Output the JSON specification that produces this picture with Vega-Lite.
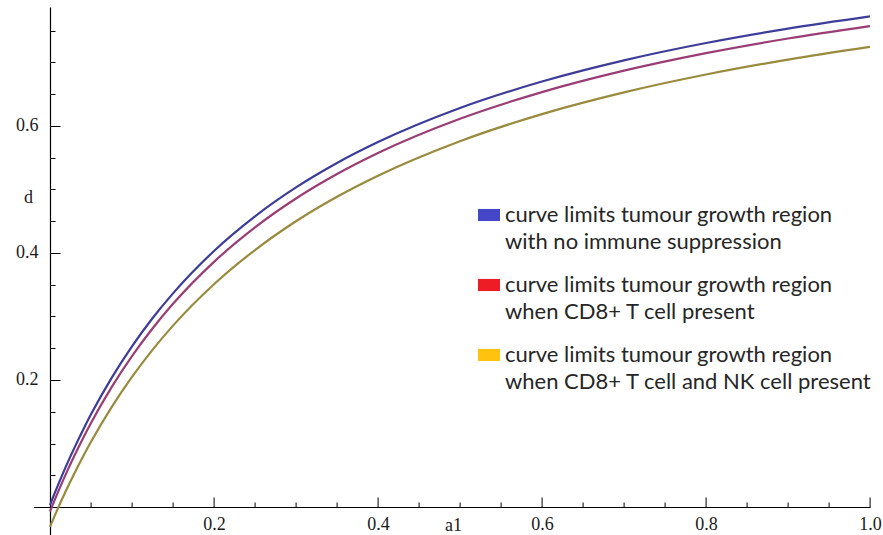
{
  "$schema": "https://vega.github.io/schema/vega-lite/v6.json",
  "width": 836.4,
  "height": 528,
  "autosize": "none",
  "padding": {"left": 33.6, "top": 7, "right": 13, "bottom": 0},
  "background": "white",
  "config": {"view": {"stroke": null}, "axis": {"grid": false}},
  "datasets": {
    "curves": [
      {"a1": 0, "d": 0.003, "series": "curve limits tumour growth region with no immune suppression"},
      {"a1": 0.005, "d": 0.0194, "series": "curve limits tumour growth region with no immune suppression"},
      {"a1": 0.01, "d": 0.0353, "series": "curve limits tumour growth region with no immune suppression"},
      {"a1": 0.02, "d": 0.0655, "series": "curve limits tumour growth region with no immune suppression"},
      {"a1": 0.03, "d": 0.0939, "series": "curve limits tumour growth region with no immune suppression"},
      {"a1": 0.04, "d": 0.1206, "series": "curve limits tumour growth region with no immune suppression"},
      {"a1": 0.05, "d": 0.1459, "series": "curve limits tumour growth region with no immune suppression"},
      {"a1": 0.075, "d": 0.203, "series": "curve limits tumour growth region with no immune suppression"},
      {"a1": 0.1, "d": 0.253, "series": "curve limits tumour growth region with no immune suppression"},
      {"a1": 0.125, "d": 0.2971, "series": "curve limits tumour growth region with no immune suppression"},
      {"a1": 0.15, "d": 0.3363, "series": "curve limits tumour growth region with no immune suppression"},
      {"a1": 0.2, "d": 0.403, "series": "curve limits tumour growth region with no immune suppression"},
      {"a1": 0.25, "d": 0.4575, "series": "curve limits tumour growth region with no immune suppression"},
      {"a1": 0.3, "d": 0.503, "series": "curve limits tumour growth region with no immune suppression"},
      {"a1": 0.35, "d": 0.5415, "series": "curve limits tumour growth region with no immune suppression"},
      {"a1": 0.4, "d": 0.5744, "series": "curve limits tumour growth region with no immune suppression"},
      {"a1": 0.5, "d": 0.628, "series": "curve limits tumour growth region with no immune suppression"},
      {"a1": 0.6, "d": 0.6697, "series": "curve limits tumour growth region with no immune suppression"},
      {"a1": 0.7, "d": 0.703, "series": "curve limits tumour growth region with no immune suppression"},
      {"a1": 0.8, "d": 0.7303, "series": "curve limits tumour growth region with no immune suppression"},
      {"a1": 0.9, "d": 0.753, "series": "curve limits tumour growth region with no immune suppression"},
      {"a1": 1.0, "d": 0.7722, "series": "curve limits tumour growth region with no immune suppression"},
      {"a1": 0, "d": -0.007, "series": "curve limits tumour growth region when CD8+ T cell present"},
      {"a1": 0.005, "d": 0.0089, "series": "curve limits tumour growth region when CD8+ T cell present"},
      {"a1": 0.01, "d": 0.0243, "series": "curve limits tumour growth region when CD8+ T cell present"},
      {"a1": 0.02, "d": 0.0538, "series": "curve limits tumour growth region when CD8+ T cell present"},
      {"a1": 0.03, "d": 0.0815, "series": "curve limits tumour growth region when CD8+ T cell present"},
      {"a1": 0.04, "d": 0.1076, "series": "curve limits tumour growth region when CD8+ T cell present"},
      {"a1": 0.05, "d": 0.1323, "series": "curve limits tumour growth region when CD8+ T cell present"},
      {"a1": 0.075, "d": 0.1883, "series": "curve limits tumour growth region when CD8+ T cell present"},
      {"a1": 0.1, "d": 0.2375, "series": "curve limits tumour growth region when CD8+ T cell present"},
      {"a1": 0.125, "d": 0.281, "series": "curve limits tumour growth region when CD8+ T cell present"},
      {"a1": 0.15, "d": 0.3198, "series": "curve limits tumour growth region when CD8+ T cell present"},
      {"a1": 0.2, "d": 0.3859, "series": "curve limits tumour growth region when CD8+ T cell present"},
      {"a1": 0.25, "d": 0.4402, "series": "curve limits tumour growth region when CD8+ T cell present"},
      {"a1": 0.3, "d": 0.4856, "series": "curve limits tumour growth region when CD8+ T cell present"},
      {"a1": 0.35, "d": 0.5241, "series": "curve limits tumour growth region when CD8+ T cell present"},
      {"a1": 0.4, "d": 0.5572, "series": "curve limits tumour growth region when CD8+ T cell present"},
      {"a1": 0.5, "d": 0.6111, "series": "curve limits tumour growth region when CD8+ T cell present"},
      {"a1": 0.6, "d": 0.6531, "series": "curve limits tumour growth region when CD8+ T cell present"},
      {"a1": 0.7, "d": 0.6868, "series": "curve limits tumour growth region when CD8+ T cell present"},
      {"a1": 0.8, "d": 0.7144, "series": "curve limits tumour growth region when CD8+ T cell present"},
      {"a1": 0.9, "d": 0.7374, "series": "curve limits tumour growth region when CD8+ T cell present"},
      {"a1": 1.0, "d": 0.7569, "series": "curve limits tumour growth region when CD8+ T cell present"},
      {"a1": 0, "d": -0.031, "series": "curve limits tumour growth region when CD8+ T cell and NK cell present"},
      {"a1": 0.005, "d": -0.0158, "series": "curve limits tumour growth region when CD8+ T cell and NK cell present"},
      {"a1": 0.01, "d": -0.0011, "series": "curve limits tumour growth region when CD8+ T cell and NK cell present"},
      {"a1": 0.02, "d": 0.0271, "series": "curve limits tumour growth region when CD8+ T cell and NK cell present"},
      {"a1": 0.03, "d": 0.0537, "series": "curve limits tumour growth region when CD8+ T cell and NK cell present"},
      {"a1": 0.04, "d": 0.0789, "series": "curve limits tumour growth region when CD8+ T cell and NK cell present"},
      {"a1": 0.05, "d": 0.1027, "series": "curve limits tumour growth region when CD8+ T cell and NK cell present"},
      {"a1": 0.075, "d": 0.157, "series": "curve limits tumour growth region when CD8+ T cell and NK cell present"},
      {"a1": 0.1, "d": 0.2048, "series": "curve limits tumour growth region when CD8+ T cell and NK cell present"},
      {"a1": 0.125, "d": 0.2474, "series": "curve limits tumour growth region when CD8+ T cell and NK cell present"},
      {"a1": 0.15, "d": 0.2855, "series": "curve limits tumour growth region when CD8+ T cell and NK cell present"},
      {"a1": 0.2, "d": 0.3507, "series": "curve limits tumour growth region when CD8+ T cell and NK cell present"},
      {"a1": 0.25, "d": 0.4045, "series": "curve limits tumour growth region when CD8+ T cell and NK cell present"},
      {"a1": 0.3, "d": 0.4498, "series": "curve limits tumour growth region when CD8+ T cell and NK cell present"},
      {"a1": 0.35, "d": 0.4883, "series": "curve limits tumour growth region when CD8+ T cell and NK cell present"},
      {"a1": 0.4, "d": 0.5215, "series": "curve limits tumour growth region when CD8+ T cell and NK cell present"},
      {"a1": 0.5, "d": 0.5758, "series": "curve limits tumour growth region when CD8+ T cell and NK cell present"},
      {"a1": 0.6, "d": 0.6184, "series": "curve limits tumour growth region when CD8+ T cell and NK cell present"},
      {"a1": 0.7, "d": 0.6526, "series": "curve limits tumour growth region when CD8+ T cell and NK cell present"},
      {"a1": 0.8, "d": 0.6807, "series": "curve limits tumour growth region when CD8+ T cell and NK cell present"},
      {"a1": 0.9, "d": 0.7043, "series": "curve limits tumour growth region when CD8+ T cell and NK cell present"},
      {"a1": 1.0, "d": 0.7243, "series": "curve limits tumour growth region when CD8+ T cell and NK cell present"}
    ]
  },
  "layer": [
    {
      "data": {"name": "curves"},
      "mark": {"type": "line", "interpolate": "monotone", "strokeWidth": 2.2, "clip": false},
      "encoding": {
        "x": {
          "field": "a1", "type": "quantitative",
          "scale": {"domain": [-0.02, 1.0], "nice": false, "zero": false},
          "axis": {
            "orient": "bottom",
            "offset": -28,
            "values": [0.05, 0.1, 0.15, 0.2, 0.25, 0.3, 0.35, 0.4, 0.45, 0.5, 0.55, 0.6, 0.65, 0.7, 0.75, 0.8, 0.85, 0.9, 0.95, 1.0],
            "labelExpr": "abs(datum.value*5 - round(datum.value*5)) < 0.001 ? format(datum.value, '.1f') : ''",
            "tickSize": {"condition": {"test": "abs(datum.value*5 - round(datum.value*5)) < 0.001", "value": -10}, "value": -5},
            "tickColor": "black", "tickWidth": 1,
            "domainColor": "black", "domainWidth": 1.2,
            "labelFont": "Liberation Serif", "labelFontSize": 18, "labelColor": "#1a1a1a",
            "labelPadding": 18, "labelBaseline": "top", "labelFlush": false, "labelOverlap": false,
            "title": "a1", "titleFont": "Liberation Serif", "titleFontSize": 18, "titleFontWeight": "normal", "titleColor": "#1a1a1a",
            "titleX": 419.4, "titleY": 18, "titleAnchor": null, "titleAlign": "center", "titleBaseline": "middle"
          }
        },
        "y": {
          "field": "d", "type": "quantitative",
          "scale": {"domain": [-0.044, 0.787], "nice": false, "zero": false},
          "axis": {
            "orient": "left",
            "offset": -16.4,
            "values": [0.05, 0.1, 0.15, 0.2, 0.25, 0.3, 0.35, 0.4, 0.45, 0.5, 0.55, 0.6, 0.65, 0.7, 0.75],
            "labelExpr": "abs(datum.value*5 - round(datum.value*5)) < 0.001 ? format(datum.value, '.1f') : ''",
            "tickSize": {"condition": {"test": "abs(datum.value*5 - round(datum.value*5)) < 0.001", "value": -10}, "value": -5},
            "tickColor": "black", "tickWidth": 1,
            "domainColor": "black", "domainWidth": 1.2,
            "labelFont": "Liberation Serif", "labelFontSize": 18, "labelColor": "#1a1a1a",
            "labelPadding": 22, "labelBaseline": "middle", "labelFlush": false, "labelOverlap": false,
            "title": "d", "titleFont": "Liberation Serif", "titleFontSize": 18, "titleFontWeight": "normal", "titleColor": "#1a1a1a",
            "titleAngle": 0, "titleX": -22, "titleY": 190, "titleAnchor": null, "titleAlign": "center", "titleBaseline": "middle"
          }
        },
        "color": {
          "field": "series", "type": "nominal",
          "scale": {
            "domain": [
              "curve limits tumour growth region with no immune suppression",
              "curve limits tumour growth region when CD8+ T cell present",
              "curve limits tumour growth region when CD8+ T cell and NK cell present"
            ],
            "range": ["#3d3d99", "#993d74", "#998b3d"]
          },
          "legend": null
        }
      }
    },
    {
      "data": {"name": "curves"},
      "mark": {"type": "point", "filled": true, "opacity": 0},
      "encoding": {
        "color": {
          "field": "series", "type": "nominal",
          "scale": {
            "domain": [
              "curve limits tumour growth region with no immune suppression",
              "curve limits tumour growth region when CD8+ T cell present",
              "curve limits tumour growth region when CD8+ T cell and NK cell present"
            ],
            "range": ["#4646c8", "#ee1c24", "#ffc20e"]
          },
          "legend": {
            "orient": "none",
            "legendX": 444.4,
            "legendY": 197,
            "title": null,
            "padding": 0,
            "symbolType": "M-1,-0.55H1V0.55H-1Z",
            "symbolSize": 484,
            "symbolOpacity": 1,
            "symbolStrokeWidth": 0,
            "labelExpr": "[slice(datum.label, 0, 33), slice(datum.label, 34)]",
            "labelFont": "Lato",
            "labelFontSize": 22,
            "labelColor": "#262626",
            "labelLimit": 600,
            "labelOffset": 5,
            "rowPadding": 21,
            "encode": {
              "labels": {"update": {"lineHeight": {"value": 27}}}
            }
          }
        }
      }
    }
  ],
  "resolve": {"scale": {"color": "independent"}}
}
